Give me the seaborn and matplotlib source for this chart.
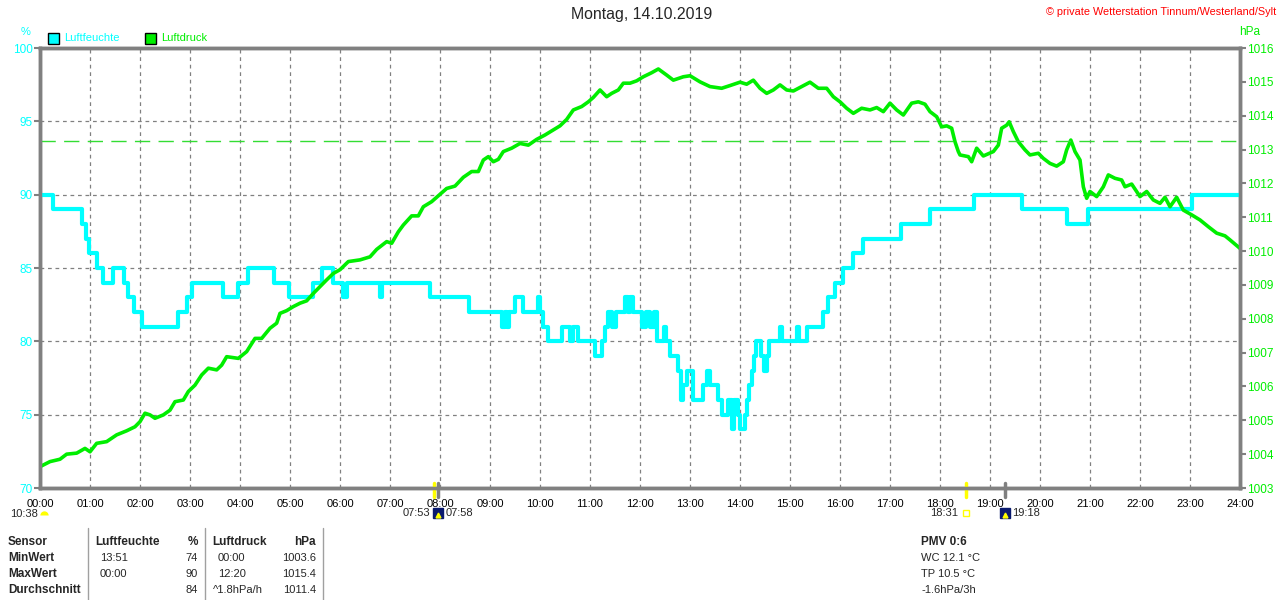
import pandas as pd
import matplotlib
matplotlib.use('Agg')
import matplotlib.pyplot as plt
import matplotlib.transforms as mtransforms
from matplotlib.lines import Line2D
from matplotlib.patches import Rectangle
import seaborn as sns

# humidity (%), step values: time the value starts
hum_times = ['00:00', '00:16', '00:50', '00:55', '00:59', '01:08', '01:16', '01:28', '01:41', '01:46',
             '01:53', '02:02', '02:46', '02:56', '03:02', '03:40', '03:58', '04:10', '04:41', '04:59',
             '05:28', '05:38', '05:52', '06:04', '06:08', '06:48', '06:50', '07:48', '08:35', '09:14',
             '09:18', '09:20', '09:23', '09:30', '09:40', '09:58', '10:00', '10:04', '10:10', '10:26',
             '10:36', '10:40', '10:46', '11:06', '11:14', '11:18', '11:22', '11:26', '11:31', '11:42',
             '11:46', '11:48', '11:52', '12:02', '12:07', '12:12', '12:17', '12:20', '12:29', '12:31',
             '12:36', '12:46', '12:49', '12:52', '12:56', '13:04', '13:16', '13:20', '13:24', '13:34',
             '13:38', '13:46', '13:50', '13:53', '13:58', '14:00', '14:06', '14:08', '14:11', '14:14',
             '14:17', '14:19', '14:25', '14:29', '14:32', '14:35', '14:48', '14:50', '15:08', '15:11',
             '15:20', '15:40', '15:46', '15:54', '16:04', '16:16', '16:28', '17:13', '17:48', '18:41',
             '19:38', '20:32', '20:58', '23:02', '24:00']
hum_vals = [90, 89, 88, 87, 86, 85, 84, 85, 84, 83,
            82, 81, 82, 83, 84, 83, 84, 85, 84, 83,
            84, 85, 84, 83, 84, 83, 84, 83, 82, 81,
            82, 81, 82, 83, 82, 83, 82, 81, 80, 81,
            80, 81, 80, 79, 80, 81, 82, 81, 82, 83,
            82, 83, 82, 81, 82, 81, 82, 80, 81, 80,
            79, 78, 76, 77, 78, 76, 77, 78, 77, 76,
            75, 76, 74, 76, 75, 74, 75, 76, 77, 78,
            79, 80, 79, 78, 79, 80, 81, 80, 81, 80,
            81, 82, 83, 84, 85, 86, 87, 88, 89, 90,
            89, 88, 89, 90, 90]

# air pressure (hPa)
pres_times = ['00:00', '00:12', '00:24', '00:32', '00:44', '00:54', '01:00', '01:08', '01:20', '01:32',
              '01:44', '01:54', '02:00', '02:06', '02:12', '02:18', '02:28', '02:36', '02:42', '02:52',
              '02:58', '03:06', '03:14', '03:22', '03:32', '03:38', '03:44', '03:58', '04:08', '04:18',
              '04:26', '04:36', '04:44', '04:48', '04:56', '05:04', '05:12', '05:20', '05:28', '05:36',
              '05:44', '05:52', '06:00', '06:10', '06:24', '06:36', '06:44', '06:56', '07:02', '07:10',
              '07:16', '07:26', '07:34', '07:40', '07:50', '07:56', '08:08', '08:18', '08:28', '08:38',
              '08:46', '08:52', '08:58', '09:04', '09:10', '09:16', '09:26', '09:36', '09:46', '09:56',
              '10:06', '10:16', '10:24', '10:32', '10:40', '10:50', '10:58', '11:04', '11:12', '11:20',
              '11:26', '11:34', '11:40', '11:48', '11:56', '12:04', '12:14', '12:22', '12:32', '12:40',
              '12:52', '13:00', '13:12', '13:24', '13:38', '13:48', '14:00', '14:08', '14:16', '14:24',
              '14:32', '14:40', '14:48', '14:56', '15:04', '15:14', '15:24', '15:34', '15:44', '15:52',
              '16:00', '16:08', '16:16', '16:26', '16:36', '16:44', '16:52', '17:00', '17:08', '17:16',
              '17:26', '17:34', '17:42', '17:48', '17:56', '18:02', '18:08', '18:14', '18:18', '18:22',
              '18:24', '18:34', '18:38', '18:44', '18:52', '19:04', '19:10', '19:14', '19:20', '19:23',
              '19:28', '19:34', '19:42', '19:48', '19:58', '20:04', '20:12', '20:20', '20:28', '20:32',
              '20:37', '20:42', '20:48', '20:52', '20:56', '21:00', '21:08', '21:16', '21:22', '21:30',
              '21:38', '21:42', '21:50', '22:00', '22:08', '22:16', '22:24', '22:30', '22:36', '22:44',
              '22:52', '23:02', '23:12', '23:22', '23:32', '23:42', '23:48', '24:00']
pres_vals = [1003.63, 1003.78, 1003.85, 1004.00, 1004.03, 1004.17, 1004.07, 1004.32, 1004.37, 1004.57,
             1004.69, 1004.81, 1004.96, 1005.21, 1005.16, 1005.06, 1005.16, 1005.30, 1005.55, 1005.60,
             1005.85, 1006.04, 1006.34, 1006.54, 1006.49, 1006.63, 1006.88, 1006.83, 1007.03, 1007.42,
             1007.42, 1007.72, 1007.87, 1008.16, 1008.24, 1008.36, 1008.46, 1008.53, 1008.75, 1008.95,
             1009.15, 1009.34, 1009.45, 1009.69, 1009.74, 1009.83, 1010.05, 1010.28, 1010.23, 1010.57,
             1010.77, 1011.04, 1011.04, 1011.31, 1011.46, 1011.59, 1011.85, 1011.92, 1012.18, 1012.35,
             1012.35, 1012.69, 1012.79, 1012.64, 1012.71, 1012.94, 1013.04, 1013.18, 1013.13, 1013.30,
             1013.43, 1013.58, 1013.70, 1013.89, 1014.17, 1014.27, 1014.41, 1014.54, 1014.76, 1014.56,
             1014.66, 1014.76, 1014.96, 1014.96, 1015.03, 1015.15, 1015.27, 1015.38, 1015.20, 1015.05,
             1015.15, 1015.18, 1015.00, 1014.86, 1014.81, 1014.89, 1014.99, 1014.93, 1015.05, 1014.81,
             1014.66, 1014.76, 1014.91, 1014.76, 1014.73, 1014.86, 1014.99, 1014.81, 1014.81, 1014.56,
             1014.41, 1014.22, 1014.07, 1014.22, 1014.17, 1014.24, 1014.12, 1014.37, 1014.17, 1014.02,
             1014.37, 1014.41, 1014.34, 1014.12, 1013.97, 1013.67, 1013.70, 1013.63, 1013.23, 1012.94,
             1012.84, 1012.79, 1012.64, 1013.04, 1012.81, 1012.94, 1013.13, 1013.63, 1013.72, 1013.82,
             1013.53, 1013.23, 1012.99, 1012.84, 1012.89, 1012.74, 1012.59, 1012.51, 1012.64, 1012.99,
             1013.28, 1012.94, 1012.69, 1011.90, 1011.56, 1011.76, 1011.61, 1011.90, 1012.25, 1012.15,
             1012.10, 1011.90, 1011.98, 1011.61, 1011.76, 1011.51, 1011.41, 1011.59, 1011.31, 1011.59,
             1011.21, 1011.07, 1010.92, 1010.72, 1010.53, 1010.45, 1010.33, 1010.08]

ref_pressure = 1013.25
hour_labels = ['%02d:00' % h for h in range(25)]
hum_ticks = [70, 75, 80, 85, 90, 95, 100]
pres_ticks = list(range(1003, 1017))

# sunrise / sunset markers under the time axis
event_times = ['07:53', '07:58', '18:31', '19:18']
event_colors = ['#ffff00', '#808080', '#ffff00', '#808080']
moon_label = '10:38'

# statistics table
table_rows = ['MinWert', 'MaxWert', 'Durchschnitt']
hum_time_col = ['13:51', '00:00', '']
hum_val_col = ['74', '90', '84']
pres_time_col = ['00:00', '12:20', '^1.8hPa/h']
pres_val_col = ['1003.6', '1015.4', '1011.4']
pmv_label = 'PMV 0:6'
extra_lines = ['WC 12.1 °C', 'TP 10.5 °C', '-1.6hPa/3h']

CYAN = '#00ffff'
GREEN = '#00ee00'
GRAY = '#808080'


def to_hours(t):
    h, m = t.split(':')
    return int(h) + int(m) / 60


df_h = pd.DataFrame({'hour': [to_hours(t) for t in hum_times], 'Luftfeuchte': hum_vals})
df_p = pd.DataFrame({'hour': [to_hours(t) for t in pres_times], 'Luftdruck': pres_vals})

sns.set_style('white')
plt.rcParams['font.family'] = ['Liberation Sans', 'DejaVu Sans']

W, H = 1280, 600
fig = plt.figure(figsize=(12.8, 6), dpi=100)
ax = fig.add_axes([40 / W, 112 / H, 1200 / W, 440 / H])


def px(x, y):
    return x / W, 1 - y / H


sns.lineplot(data=df_h, x='hour', y='Luftfeuchte', ax=ax, color=CYAN, lw=3,
             drawstyle='steps-post', estimator=None, zorder=3)
ax.set_xlim(0, 24)
ax.set_ylim(70, 100)
ax.set_xticks(range(25))
ax.set_xticklabels(hour_labels, fontsize=8)
ax.set_yticks(hum_ticks)
ax.set_xlabel('')
ax.set_ylabel('')
ax.grid(True, color=GRAY, linestyle=(0, (3, 3)), lw=0.9)
ax.tick_params(axis='y', labelcolor=CYAN, color=GRAY, length=4, width=1.5, labelsize=8.5, pad=1)
ax.tick_params(axis='x', labelcolor='black', color=GRAY, length=4, width=1.2, pad=4)

ax2 = ax.twinx()
sns.lineplot(data=df_p, x='hour', y='Luftdruck', ax=ax2, color=GREEN, lw=2.6, estimator=None)
ax2.axhline(ref_pressure, color='#33dd33', lw=1, dashes=(11, 6))
ax2.set_ylim(1003, 1016)
ax2.set_yticks(pres_ticks)
ax2.set_ylabel('')
ax2.tick_params(axis='y', labelcolor=GREEN, color=GRAY, length=4, width=1.5, labelsize=8.5, pad=1)
ax2.grid(False)

for a in (ax, ax2):
    for s in a.spines.values():
        s.set_color(GRAY)
        s.set_linewidth(2.5)

# axis units and legend
fig.text(*px(26, 32), '%', color=CYAN, fontsize=8, ha='center', va='center')
fig.text(*px(1250, 32), 'hPa', color=GREEN, fontsize=8.5, ha='center', va='center')
fig.text(*px(642, 15), 'Montag, 14.10.2019', fontsize=11.4, ha='center', va='center')
fig.text(*px(1276, 12), '© private Wetterstation Tinnum/Westerland/Sylt', color='#ff0000',
         fontsize=7.8, ha='right', va='center')

for x0, label, col in [(48, 'Luftfeuchte', CYAN), (145, 'Luftdruck', GREEN)]:
    fig.add_artist(Rectangle(px(x0, 44), 11 / W, 11 / H, transform=fig.transFigure,
                             facecolor=col, edgecolor='black', lw=1))
    fig.text(*px(x0 + 16, 38), label, color=col, fontsize=8, ha='left', va='center')

# sunrise / sunset
trans = mtransforms.blended_transform_factory(ax.transData, ax.transAxes)
for t, col in zip(event_times, event_colors):
    ax.plot([to_hours(t)] * 2, [0.012, -0.02], color=col, lw=2.5, transform=trans,
            clip_on=False, zorder=5)

ylab = -25 / 440
ax.text(to_hours(event_times[0]) - 0.07, ylab, event_times[0], transform=trans, fontsize=8,
        ha='right', va='center')
ax.text(to_hours(event_times[1]) + 0.14, ylab, event_times[1], transform=trans, fontsize=8,
        ha='left', va='center')
ax.text(to_hours(event_times[2]) - 0.16, ylab, event_times[2], transform=trans, fontsize=8,
        ha='right', va='center')
ax.text(to_hours(event_times[3]) + 0.14, ylab, event_times[3], transform=trans, fontsize=8,
        ha='left', va='center')
for t in (event_times[1], event_times[3]):
    ax.plot([to_hours(t)], [ylab], marker='s', ms=7, color='#0a1a6e', transform=trans,
            clip_on=False, zorder=6)
    ax.plot([to_hours(t)], [ylab - 0.004], marker='^', ms=3.5, color='#ffff00', transform=trans,
            clip_on=False, zorder=7)
ax.plot([to_hours(event_times[2])], [ylab], marker='s', ms=4, mfc='none', mec='#ffff00', mew=1,
        transform=trans, clip_on=False)

fig.text(*px(10, 514), moon_label, fontsize=8, ha='left', va='center')
fig.add_artist(Line2D([44 / W], [1 - 515 / H], marker='o', ms=6, fillstyle='top', mfc='#ffff00',
                      mec='none', transform=fig.transFigure))

# statistics table
for xl in (88, 205, 323):
    fig.add_artist(Line2D([xl / W] * 2, [1 - 528 / H, 0], color='#a0a0a0', lw=1,
                          transform=fig.transFigure))

rows_y = [558, 574, 590]
bold = dict(fontsize=8.5, fontweight='bold', va='center')
norm = dict(fontsize=8, va='center')
fig.text(*px(8, 542), 'Sensor', ha='left', **bold)
fig.text(*px(95, 542), 'Luftfeuchte', ha='left', **bold)
fig.text(*px(198, 542), '%', ha='right', **bold)
fig.text(*px(212, 542), 'Luftdruck', ha='left', **bold)
fig.text(*px(316, 542), 'hPa', ha='right', **bold)
for y, name, ht, hv, pt, pv in zip(rows_y, table_rows, hum_time_col, hum_val_col,
                                   pres_time_col, pres_val_col):
    fig.text(*px(8, y), name, ha='left', **bold)
    fig.text(*px(100, y), ht, ha='left', **norm)
    fig.text(*px(198, y), hv, ha='right', **norm)
    fig.text(*px(213 if pt.startswith('^') else 218, y), pt, ha='left', **norm)
    fig.text(*px(316, y), pv, ha='right', **norm)

fig.text(*px(921, 542), pmv_label, ha='left', **bold)
for y, line in zip(rows_y, extra_lines):
    fig.text(*px(921, y), line, ha='left', **norm)

fig.savefig('out.png', dpi=100)
